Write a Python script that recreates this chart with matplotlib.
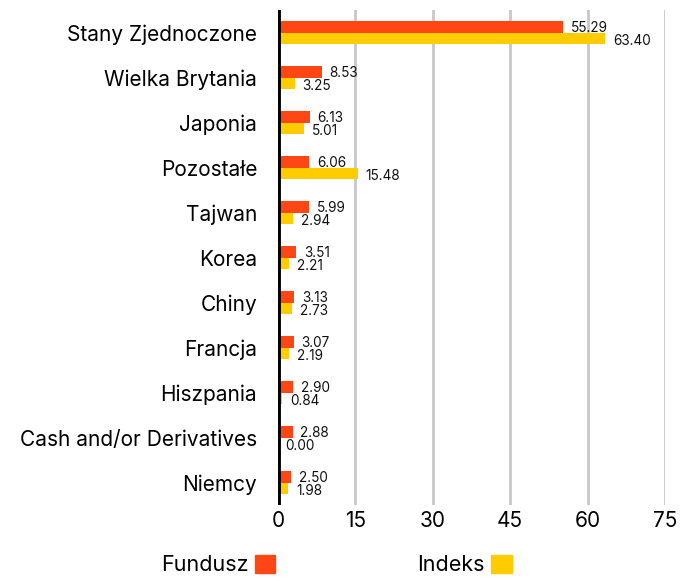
import matplotlib
matplotlib.use("Agg")
import matplotlib.pyplot as plt
from matplotlib.patches import Patch
import numpy as np

plt.rcParams['font.family'] = ['Inter', 'DejaVu Sans']

categories = ["Stany Zjednoczone", "Wielka Brytania", "Japonia", "Pozostałe", "Tajwan",
              "Korea", "Chiny", "Francja", "Hiszpania", "Cash and/or Derivatives", "Niemcy"]
fundusz = [55.29, 8.53, 6.13, 6.06, 5.99, 3.51, 3.13, 3.07, 2.90, 2.88, 2.50]
indeks = [63.40, 3.25, 5.01, 15.48, 2.94, 2.21, 2.73, 2.19, 0.84, 0.00, 1.98]
xticks = [0, 15, 30, 45, 60, 75]

c_f = "#FF4614"
c_i = "#FFCC00"

fig = plt.figure(figsize=(6.92, 5.83), dpi=100)
ax = fig.add_axes([278/692, 1-505/583, (665-278)/692, (505-10)/583])

y = np.arange(len(categories))
h = 0.265
ax.barh(y - h/2, fundusz, height=h, color=c_f, zorder=3)
ax.barh(y + h/2, indeks, height=h, color=c_i, zorder=3)

for yi, v in zip(y, fundusz):
    ax.annotate(f"{v:.2f}", (v, yi - h/2), xytext=(5.5, 0), textcoords="offset points",
                ha="left", va="center_baseline", fontsize=9.8, color="#111111", zorder=4)
for yi, v in zip(y, indeks):
    ax.annotate(f"{v:.2f}", (v, yi + h/2), xytext=(5.5, -1), textcoords="offset points",
                ha="left", va="center_baseline", fontsize=9.8, color="#111111", zorder=4)

ax.set_xlim(0, 75)
ax.set_ylim(len(categories) - 0.5, -0.5)
ax.set_xticks(xticks)
ax.set_xticklabels([str(t) for t in xticks], fontsize=15)
ax.set_yticks(y)
ax.set_yticklabels(categories, fontsize=15)
ax.tick_params(axis='both', length=0)
ax.tick_params(axis='y', pad=15)
ax.tick_params(axis='x', pad=4)
for s in ax.spines.values():
    s.set_visible(False)
ax.grid(axis='x', color="#c8c8c8", linewidth=2, zorder=0)
ax.axvline(0, color="black", linewidth=3.5, zorder=5)

handles = [Patch(color=c_f, label="Fundusz"), Patch(color=c_i, label="Indeks")]
fig.legend(handles=handles, loc="center", bbox_to_anchor=(0.486, 0.031), ncol=2,
           markerfirst=False, frameon=False, fontsize=15.5, handlelength=0.95,
           handleheight=0.95, handletextpad=0.3, columnspacing=6.6)

fig.savefig("out.png", dpi=100)
